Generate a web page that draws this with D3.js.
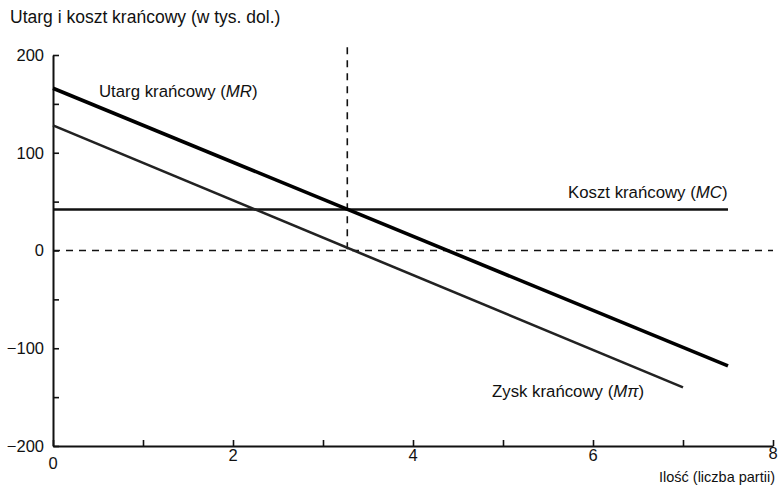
<!DOCTYPE html>
<html><head><meta charset="utf-8">
<script src="https://cdn.jsdelivr.net/npm/d3@7"></script>
<style>
body{margin:0;background:#fff;}
text{font-family:"Liberation Sans",Arial,sans-serif;fill:#111;}
</style></head>
<body><svg id="c" width="780" height="488"></svg>
<script>
const mrPoints = [{q:0, v:166}, {q:7.5, v:-118}];
const mcPoints = [{q:0, v:42}, {q:7.5, v:42}];
const mpiPoints = [{q:0, v:128}, {q:7, v:-140}];
const optimumQ = 3.27;
const xTickValues = [0,1,2,3,4,5,6,7,8];
const xTickLabels = ["0","","2","","4","","6","","8"];
const yTickValues = [-200,-150,-100,-50,0,50,100,150,200];
const yTickLabels = ["-200","","-100","","0","","100","","200"];

const svg = d3.select("#c");
const x = d3.scaleLinear().domain([0,8]).range([53,773]);
const y = d3.scaleLinear().domain([-200,200]).range([446,55]);

// axes
const yAxis = d3.axisRight(y).tickValues(yTickValues).tickSize(6)
  .tickFormat(()=>"").tickSizeOuter(0);
const gy = svg.append("g").attr("transform",`translate(${x(0)},0)`).call(yAxis);
gy.select(".domain").attr("stroke","#111").attr("stroke-width",2);
gy.selectAll(".tick line").attr("stroke","#111").attr("stroke-width",1.6);
yTickValues.forEach((v,i)=>{
  if(!yTickLabels[i]) return;
  svg.append("text").attr("x",x(0)-9).attr("y",y(v)).attr("dy","0.35em")
    .attr("text-anchor","end").style("font-size","16.5px").text(yTickLabels[i].replace("-","\u2212"));
});

const xAxis = d3.axisTop(x).tickValues(xTickValues).tickSize(6)
  .tickFormat(()=>"").tickSizeOuter(0);
const gx = svg.append("g").attr("transform",`translate(0,${y(-200)})`).call(xAxis);
gx.select(".domain").attr("stroke","#111").attr("stroke-width",2);
gx.selectAll(".tick line").attr("stroke","#111").attr("stroke-width",1.6);
xTickValues.forEach((v,i)=>{
  if(!xTickLabels[i]) return;
  svg.append("text").attr("x",x(v)).attr("y",y(-200)+(v===0?17:v===8?7:9)).attr("dy","0.35em")
    .attr("text-anchor","middle").style("font-size","16.5px").text(xTickLabels[i]);
});

// dashed reference lines
svg.append("line").attr("x1",x(0)).attr("x2",x(8)).attr("y1",y(0)).attr("y2",y(0))
  .attr("stroke","#111").attr("stroke-width",1.6).attr("stroke-dasharray","7,6");
svg.append("line").attr("x1",x(optimumQ)).attr("x2",x(optimumQ)).attr("y1",y(208)).attr("y2",y(0))
  .attr("stroke","#111").attr("stroke-width",1.6).attr("stroke-dasharray","7,6");

const line = d3.line().x(d=>x(d.q)).y(d=>y(d.v));
svg.append("path").datum(mcPoints).attr("d",line).attr("fill","none").attr("stroke","#111").attr("stroke-width",2.4);
svg.append("path").datum(mpiPoints).attr("d",line).attr("fill","none").attr("stroke","#222").attr("stroke-width",2.6);
svg.append("path").datum(mrPoints).attr("d",line).attr("fill","none").attr("stroke","#000").attr("stroke-width",3.6);

// labels
svg.append("text").attr("x",10).attr("y",23).style("font-size","17.5px").text("Utarg i koszt krańcowy (w tys. dol.)");
svg.append("text").attr("x",775).attr("y",482).attr("text-anchor","end").style("font-size","14.5px").text("Ilość (liczba partii)");

function seriesLabel(xp, yp, main, abbr){
  const t = svg.append("text").attr("x",xp).attr("y",yp).style("font-size","16.8px");
  t.append("tspan").text(main+" (");
  t.append("tspan").style("font-style","italic").text(abbr);
  t.append("tspan").text(")");
}
seriesLabel(99, 97, "Utarg krańcowy", "MR");
seriesLabel(568, 198, "Koszt krańcowy", "MC");
seriesLabel(492, 397, "Zysk krańcowy", "Mπ");
</script></body></html>
